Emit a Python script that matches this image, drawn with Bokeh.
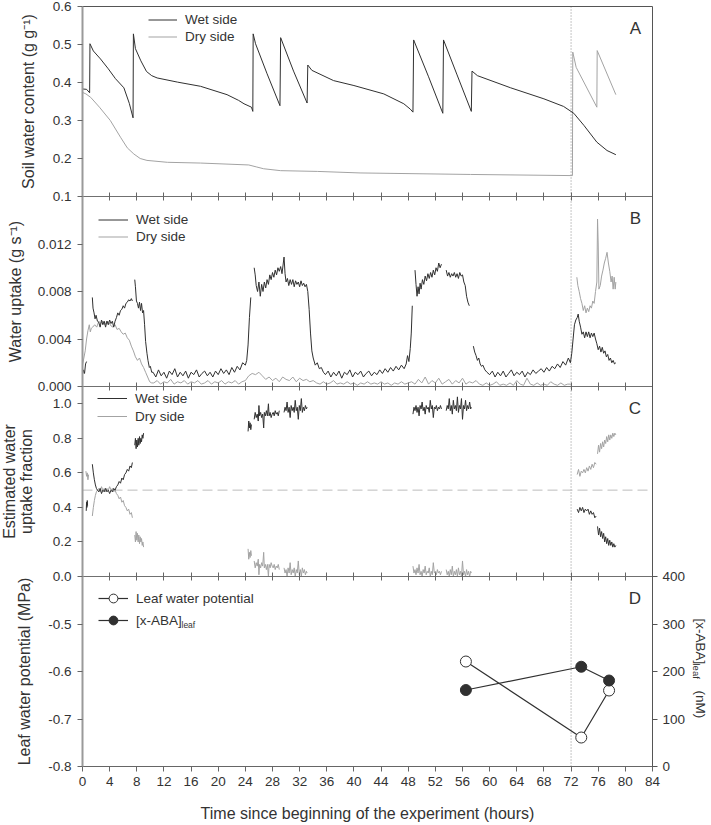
import math
import numpy as np
from bokeh.plotting import figure
from bokeh.models import (Range1d, LinearAxis, FixedTicker, Label, Legend,
                          LegendItem, ColumnDataSource)
from bokeh.embed import file_html
from bokeh.resources import INLINE

FONT = "Liberation Sans"
WET = "#303030"
DRY = "#a3a3a3"
TXT = "#333333"

# ---------------- data ----------------
X_TICKS = [0, 4, 8, 12, 16, 20, 24, 28, 32, 36, 40, 44, 48, 52, 56, 60, 64, 68, 72, 76, 80, 84]
LIGHT_CHANGE = 72.0

# Panel A: soil water content (g g-1)
A_WET = [[(0.0, 0.383), (0.6, 0.382), (1.05, 0.373), (1.1, 0.502), (1.6, 0.483), (2.65, 0.462),
          (3.8, 0.436), (4.86, 0.410), (6.1, 0.386), (6.9, 0.345), (7.45, 0.307), (7.5, 0.528),
          (7.8, 0.489), (8.6, 0.457), (9.43, 0.429), (10.2, 0.418), (11.0, 0.412), (14.0, 0.401),
          (17.4, 0.390), (21.3, 0.368), (23.0, 0.353), (23.8, 0.344), (24.9, 0.335), (25.1, 0.324),
          (25.15, 0.528), (25.5, 0.502), (27.2, 0.423), (29.1, 0.339), (29.2, 0.518), (31.1, 0.430),
          (33.1, 0.346), (33.2, 0.446), (33.8, 0.432), (37.0, 0.405), (40.0, 0.392), (44.4, 0.370),
          (47.35, 0.344), (48.3, 0.330), (48.7, 0.322), (48.8, 0.512), (51.0, 0.415), (53.1, 0.319),
          (53.2, 0.512), (55.2, 0.420), (57.3, 0.324), (57.4, 0.430), (58.2, 0.418), (63.1, 0.386),
          (68.0, 0.357), (70.9, 0.337), (72.4, 0.319), (73.9, 0.287), (75.8, 0.243), (77.3, 0.221),
          (78.6, 0.210)]]
A_DRY = [[(0.0, 0.374), (0.5, 0.370), (1.2, 0.361), (2.5, 0.335), (4.1, 0.300), (5.6, 0.256),
          (6.6, 0.228), (7.56, 0.212), (8.5, 0.200), (9.5, 0.195), (12.5, 0.190), (17.4, 0.188),
          (24.5, 0.183), (25.6, 0.178), (26.7, 0.173), (29.2, 0.168), (34.6, 0.166), (40.9, 0.162),
          (57.2, 0.158), (72.2, 0.155), (72.25, 0.480), (72.75, 0.440), (75.8, 0.335),
          (75.85, 0.484), (78.6, 0.368)]]

# Panel B: water uptake (g s-1)
B_WET = [
    [(0.0, 0.0010), (0.15, 0.0014), (0.3, 0.0011), (0.45, 0.0019), (0.6, 0.0021)],
    [(1.45, 0.0075), (1.55, 0.0066), (1.7, 0.0062), (1.85, 0.0057), (2.0, 0.0060), (2.2, 0.0055),
     (2.4, 0.0054), (2.6, 0.0050), (2.8, 0.0056), (3.0, 0.0052), (3.2, 0.0055), (3.4, 0.0050),
     (3.6, 0.0055), (3.8, 0.0052), (4.0, 0.0056), (4.2, 0.0053), (4.4, 0.0055), (4.6, 0.0050),
     (4.8, 0.0055), (5.0, 0.0058), (5.2, 0.0062), (5.4, 0.0060), (5.6, 0.0064), (5.8, 0.0065),
     (6.0, 0.0068), (6.2, 0.0066), (6.4, 0.0070), (6.6, 0.0071), (6.8, 0.0073), (7.0, 0.0072),
     (7.2, 0.0074), (7.35, 0.0072)],
    [(7.7, 0.0090), (7.8, 0.0084), (7.95, 0.0072), (8.1, 0.0070), (8.25, 0.0066), (8.4, 0.0071),
     (8.55, 0.0064), (8.7, 0.0070), (8.85, 0.0062), (9.0, 0.0064), (9.15, 0.0052), (9.3, 0.0038),
     (9.5, 0.0028), (9.65, 0.0022), (9.85, 0.0016), (10.0, 0.0017), (10.2, 0.0012),
     (10.4, 0.0012), (10.8, 0.0008), (11.2, 0.0014), (11.6, 0.0009), (12.0, 0.0012), (12.4, 0.0007),
     (12.8, 0.0013), (13.2, 0.0010), (13.6, 0.0015), (14.0, 0.0008), (14.4, 0.0012), (14.8, 0.0009),
     (15.2, 0.0013), (15.6, 0.0007), (16.0, 0.0012), (16.4, 0.0010), (16.8, 0.0014), (17.2, 0.0008),
     (17.6, 0.0011), (18.0, 0.0013), (18.4, 0.0009), (18.8, 0.0012), (19.2, 0.0008), (19.6, 0.0013),
     (20.0, 0.0010), (20.4, 0.0015), (20.8, 0.0011), (21.2, 0.0014), (21.6, 0.0010), (22.0, 0.0016),
     (22.4, 0.0012), (22.8, 0.0017), (23.2, 0.0014), (23.6, 0.0020), (24.0, 0.0018),
     (24.2, 0.0022), (24.4, 0.0035), (24.6, 0.0058), (24.8, 0.0075)],
    [(25.3, 0.0100), (25.45, 0.0094), (25.6, 0.0085), (25.8, 0.0080), (26.0, 0.0088), (26.2, 0.0076),
     (26.4, 0.0086), (26.6, 0.0080), (26.8, 0.0088), (27.0, 0.0083), (27.2, 0.0090), (27.4, 0.0086),
     (27.6, 0.0094), (27.8, 0.0090), (28.0, 0.0096), (28.2, 0.0092), (28.4, 0.0098), (28.6, 0.0094),
     (28.8, 0.0100), (29.0, 0.0097), (29.2, 0.0101), (29.4, 0.0095), (29.7, 0.0109), (29.85, 0.0095),
     (30.0, 0.0088), (30.2, 0.0091), (30.4, 0.0085), (30.6, 0.0090), (30.8, 0.0086), (31.0, 0.0090),
     (31.2, 0.0084), (31.4, 0.0089), (31.6, 0.0086), (31.8, 0.0088), (32.0, 0.0084), (32.2, 0.0089),
     (32.4, 0.0085), (32.6, 0.0087), (32.8, 0.0084), (33.0, 0.0086), (33.2, 0.0080), (33.4, 0.0065),
     (33.6, 0.0045), (33.8, 0.0030), (34.0, 0.0024), (34.3, 0.0018), (34.6, 0.0020), (34.9, 0.0015),
     (35.2, 0.0016), (35.5, 0.0012),
     (35.8, 0.0010), (36.2, 0.0013), (36.6, 0.0008), (37.0, 0.0012), (37.4, 0.0009), (37.8, 0.0013),
     (38.2, 0.0007), (38.6, 0.0012), (39.0, 0.0010), (39.4, 0.0014), (39.8, 0.0008), (40.2, 0.0012),
     (40.6, 0.0010), (41.0, 0.0013), (41.4, 0.0008), (41.8, 0.0011), (42.2, 0.0013), (42.6, 0.0009),
     (43.0, 0.0012), (43.4, 0.0010), (43.8, 0.0014), (44.2, 0.0011), (44.6, 0.0015), (45.0, 0.0012),
     (45.4, 0.0016), (45.8, 0.0013), (46.2, 0.0017), (46.6, 0.0014), (47.0, 0.0018), (47.4, 0.0015),
     (47.7, 0.0019), (47.9, 0.0026), (48.1, 0.0021), (48.3, 0.0032), (48.45, 0.0045), (48.6, 0.0068)],
    [(49.0, 0.0098), (49.15, 0.0086), (49.3, 0.0076), (49.45, 0.0084), (49.6, 0.0078), (49.75, 0.0087),
     (49.9, 0.0082), (50.1, 0.0090), (50.3, 0.0086), (50.5, 0.0093), (50.7, 0.0089), (50.9, 0.0095),
     (51.1, 0.0091), (51.3, 0.0096), (51.5, 0.0092), (51.7, 0.0098), (51.9, 0.0094), (52.1, 0.0100),
     (52.3, 0.0097), (52.5, 0.0104), (52.7, 0.0100), (52.9, 0.0103)],
    [(53.6, 0.0098), (53.8, 0.0093), (54.0, 0.0096), (54.2, 0.0092), (54.4, 0.0095), (54.6, 0.0093),
     (54.8, 0.0096), (55.0, 0.0092), (55.2, 0.0095), (55.4, 0.0091), (55.6, 0.0096), (55.8, 0.0093),
     (56.0, 0.0094), (56.2, 0.0088), (56.4, 0.0085), (56.6, 0.0076), (56.8, 0.0071), (57.0, 0.0068)],
    [(57.6, 0.0034), (57.8, 0.0029), (58.0, 0.0026), (58.2, 0.0022), (58.4, 0.0024), (58.6, 0.0019),
     (58.8, 0.0017), (59.0, 0.0018), (59.3, 0.0014), (59.6, 0.0012),
     (60.0, 0.0010), (60.4, 0.0013), (60.8, 0.0008), (61.2, 0.0012), (61.6, 0.0009), (62.0, 0.0013),
     (62.4, 0.0008), (62.8, 0.0011), (63.2, 0.0014), (63.6, 0.0009), (64.0, 0.0012), (64.4, 0.0010),
     (64.8, 0.0013), (65.2, 0.0008), (65.6, 0.0012), (66.0, 0.0010), (66.4, 0.0014), (66.8, 0.0011),
     (67.2, 0.0013), (67.6, 0.0015), (68.0, 0.0012), (68.4, 0.0016), (68.8, 0.0013), (69.2, 0.0017),
     (69.6, 0.0015), (70.0, 0.0019), (70.4, 0.0016), (70.8, 0.0021), (71.2, 0.0018), (71.6, 0.0024),
     (71.9, 0.0020), (72.1, 0.0028), (72.3, 0.0040), (72.5, 0.0052), (72.7, 0.0056), (72.9, 0.0058),
     (73.05, 0.0061), (73.2, 0.0055), (73.4, 0.0050), (73.6, 0.0044), (73.8, 0.0046), (74.0, 0.0041),
     (74.2, 0.0046), (74.4, 0.0042), (74.6, 0.0046), (74.8, 0.0041), (75.0, 0.0045), (75.2, 0.0042),
     (75.4, 0.0045), (75.6, 0.0040), (75.8, 0.0036), (76.0, 0.0031), (76.2, 0.0034), (76.4, 0.0029),
     (76.6, 0.0033), (76.8, 0.0028), (77.0, 0.0030), (77.2, 0.0025), (77.4, 0.0027), (77.6, 0.0022),
     (77.8, 0.0024), (78.0, 0.0020), (78.2, 0.0022), (78.4, 0.0019), (78.6, 0.0020)],
]
B_DRY = [
    [(0.0, 0.0018), (0.2, 0.0024), (0.4, 0.0030), (0.6, 0.0040), (0.8, 0.0047), (1.0, 0.0052),
     (1.15, 0.0046), (1.3, 0.0049), (1.5, 0.0050), (1.8, 0.0052), (2.1, 0.0050), (2.4, 0.0055),
     (2.7, 0.0053), (3.0, 0.0055), (3.3, 0.0052), (3.6, 0.0055), (3.9, 0.0054), (4.2, 0.0051),
     (4.5, 0.0050), (4.8, 0.0052), (5.1, 0.0048), (5.4, 0.0049), (5.7, 0.0046), (6.0, 0.0044),
     (6.3, 0.0045), (6.6, 0.0041), (6.9, 0.0039), (7.2, 0.0034), (7.5, 0.0030), (7.8, 0.0025),
     (8.1, 0.0022), (8.4, 0.0024), (8.7, 0.0019), (9.0, 0.0016), (9.3, 0.0012), (9.6, 0.0008),
     (9.9, 0.0004), (10.2, 0.0003),
     (10.5, 0.0003), (11.0, 0.0005), (11.5, 0.0002), (12.0, 0.0004), (12.5, 0.0003), (13.0, 0.0006),
     (13.5, 0.0002), (14.0, 0.0004), (14.5, 0.0003), (15.0, 0.0005), (15.5, 0.0002), (16.0, 0.0004),
     (16.5, 0.0003), (17.0, 0.0005), (17.5, 0.0002), (18.0, 0.0003), (18.5, 0.0005), (19.0, 0.0002),
     (19.5, 0.0004), (20.0, 0.0003), (20.5, 0.0005), (21.0, 0.0002), (21.5, 0.0004), (22.0, 0.0003),
     (22.5, 0.0005), (23.0, 0.0002), (23.5, 0.0004), (24.0, 0.0005),
     (24.5, 0.0009), (25.0, 0.0011), (25.5, 0.0010), (26.0, 0.0012), (26.5, 0.0009),
     (27.0, 0.0006), (27.5, 0.0008), (28.0, 0.0005), (28.5, 0.0007), (29.0, 0.0004), (29.5, 0.0008),
     (30.0, 0.0006), (30.5, 0.0005), (31.0, 0.0008), (31.5, 0.0004), (32.0, 0.0007), (32.5, 0.0005),
     (33.0, 0.0006), (33.5, 0.0004), (34.0, 0.0005),
     (34.5, 0.0003), (35.0, 0.0002), (35.5, 0.0004), (36.0, 0.0002), (36.5, 0.0003), (37.0, 0.0005),
     (37.5, 0.0002), (38.0, 0.0003), (38.5, 0.0002), (39.0, 0.0004), (39.5, 0.0002), (40.0, 0.0003),
     (40.5, 0.0001), (41.0, 0.0003), (41.5, 0.0002), (42.0, 0.0004), (42.5, 0.0002), (43.0, 0.0003),
     (43.5, 0.0002), (44.0, 0.0004), (44.5, 0.0002), (45.0, 0.0003), (45.5, 0.0001), (46.0, 0.0003),
     (46.5, 0.0002), (47.0, 0.0004), (47.5, 0.0002), (48.0, 0.0003),
     (48.5, 0.0004), (49.0, 0.0002), (49.5, 0.0006), (50.0, 0.0003), (50.5, 0.0008), (51.0, 0.0002),
     (51.5, 0.0005), (52.0, 0.0003), (52.5, 0.0007), (53.0, 0.0002), (53.5, 0.0004), (54.0, 0.0006),
     (54.5, 0.0002), (55.0, 0.0005), (55.5, 0.0003), (56.0, 0.0007), (56.5, 0.0002), (57.0, 0.0004),
     (57.5, 0.0003), (58.0, 0.0005),
     (58.5, 0.0002), (59.0, 0.0001), (59.5, 0.0003), (60.0, 0.0001), (60.5, 0.0002), (61.0, 0.0004),
     (61.5, 0.0001), (62.0, 0.0002), (62.5, 0.0001), (63.0, 0.0003), (63.5, 0.0001), (64.0, 0.0005),
     (64.5, 0.0002), (65.0, 0.0001), (65.5, 0.0007), (66.0, 0.0002), (66.5, 0.0001), (67.0, 0.0003),
     (67.5, 0.0001), (68.0, 0.0002), (68.5, 0.0001), (69.0, 0.0004), (69.5, 0.0002), (70.0, 0.0001),
     (70.5, 0.0003), (71.0, 0.0001), (71.5, 0.0002), (72.0, 0.0002)],
    [(72.85, 0.0092), (73.0, 0.0085), (73.2, 0.0080), (73.4, 0.0074), (73.6, 0.0070), (73.8, 0.0064),
     (74.0, 0.0068), (74.2, 0.0062), (74.4, 0.0066), (74.6, 0.0063), (74.8, 0.0068), (75.0, 0.0066),
     (75.2, 0.0072), (75.4, 0.0070), (75.6, 0.0080), (75.8, 0.0088), (75.9, 0.0141), (76.0, 0.0120),
     (76.1, 0.0082), (76.3, 0.0085), (76.5, 0.0093), (76.7, 0.0098), (76.9, 0.0104), (77.1, 0.0108),
     (77.3, 0.0113), (77.5, 0.0104), (77.7, 0.0097), (77.9, 0.0088), (78.05, 0.0093), (78.2, 0.0082),
     (78.35, 0.0092), (78.5, 0.0082), (78.6, 0.0088)],
]

# Panel C: estimated water uptake fraction
C_WET = [
    [(0.55, 0.38), (0.6, 0.43), (0.65, 0.40), (0.7, 0.44), (0.75, 0.41)],
    [(1.45, 0.65), (1.6, 0.60), (1.75, 0.56), (1.9, 0.53), (2.05, 0.51), (2.2, 0.50), (2.4, 0.49),
     (2.6, 0.51), (2.8, 0.48), (3.0, 0.50), (3.2, 0.49), (3.4, 0.51), (3.6, 0.49), (3.8, 0.50),
     (4.0, 0.48), (4.2, 0.50), (4.4, 0.49), (4.6, 0.51), (4.8, 0.50), (5.0, 0.52), (5.2, 0.53),
     (5.4, 0.55), (5.6, 0.54), (5.8, 0.57), (6.0, 0.56), (6.2, 0.59), (6.4, 0.60), (6.6, 0.62),
     (6.8, 0.61), (7.0, 0.64), (7.2, 0.63), (7.35, 0.66)],
    [(7.7, 0.76), (7.8, 0.80), (7.9, 0.74), (8.0, 0.79), (8.1, 0.75), (8.2, 0.80), (8.3, 0.76),
     (8.4, 0.81), (8.5, 0.77), (8.6, 0.80), (8.7, 0.78), (8.8, 0.82), (8.9, 0.80), (9.0, 0.83)],
    [(24.4, 0.84), (24.5, 0.90), (24.6, 0.86), (24.7, 0.89), (24.8, 0.85), (24.9, 0.88)],
    [(25.3, 0.91), (25.45, 0.95), (25.6, 0.92), (25.75, 0.94), (25.9, 0.90), (26.0, 0.99),
     (26.1, 0.93), (26.25, 0.95), (26.4, 0.92), (26.55, 0.94), (26.7, 0.86), (26.8, 0.95),
     (26.95, 0.93), (27.1, 0.96), (27.25, 0.93), (27.4, 1.00), (27.5, 0.93), (27.65, 0.95),
     (27.8, 0.92), (27.95, 0.94), (28.1, 0.95), (28.25, 0.93), (28.4, 0.96), (28.55, 0.94),
     (28.7, 0.95), (28.85, 0.93), (29.0, 0.96)],
    [(29.7, 0.95), (29.85, 0.98), (30.0, 0.96), (30.15, 1.01), (30.3, 0.95), (30.45, 0.98),
     (30.6, 0.92), (30.75, 0.99), (30.9, 0.96), (31.05, 0.98), (31.2, 0.95), (31.35, 1.02),
     (31.5, 0.96), (31.65, 0.98), (31.8, 0.91), (31.95, 0.99), (32.1, 0.96), (32.25, 1.03),
     (32.4, 0.95), (32.55, 0.98), (32.7, 0.96), (32.85, 0.99), (33.0, 0.97), (33.1, 0.98)],
    [(48.7, 0.94), (48.85, 0.98), (49.0, 0.96), (49.15, 0.99), (49.3, 0.95), (49.45, 0.98),
     (49.6, 0.93), (49.75, 0.99), (49.9, 0.97), (50.05, 1.01), (50.2, 0.96), (50.35, 0.98),
     (50.5, 0.94), (50.65, 0.99), (50.8, 0.97), (50.95, 0.98), (51.1, 0.95), (51.25, 1.02),
     (51.4, 0.97), (51.55, 0.99), (51.7, 0.92), (51.85, 0.98), (52.0, 0.97), (52.15, 0.99),
     (52.3, 0.96), (52.45, 0.98), (52.6, 0.97), (52.75, 0.99), (52.9, 0.97)],
    [(53.6, 0.96), (53.75, 0.99), (53.9, 0.97), (54.05, 1.03), (54.2, 0.96), (54.35, 0.99),
     (54.5, 0.94), (54.65, 1.02), (54.8, 0.97), (54.95, 0.99), (55.1, 0.96), (55.25, 1.04),
     (55.4, 0.95), (55.55, 0.99), (55.7, 0.97), (55.85, 1.03), (56.0, 0.91), (56.15, 0.99),
     (56.3, 0.97), (56.45, 1.02), (56.6, 0.96), (56.75, 0.99), (56.9, 0.97), (57.05, 1.01),
     (57.2, 0.97), (57.3, 0.98)],
    [(72.9, 0.39), (73.1, 0.37), (73.3, 0.40), (73.5, 0.38), (73.7, 0.40), (73.9, 0.37), (74.1, 0.39),
     (74.3, 0.38), (74.5, 0.39), (74.7, 0.36), (74.9, 0.38), (75.1, 0.36), (75.3, 0.37), (75.5, 0.34),
     (75.7, 0.35)],
    [(75.9, 0.29), (76.05, 0.24), (76.2, 0.28), (76.35, 0.23), (76.5, 0.26), (76.65, 0.22),
     (76.8, 0.25), (76.95, 0.20), (77.1, 0.23), (77.25, 0.19), (77.4, 0.22), (77.55, 0.18),
     (77.7, 0.21), (77.85, 0.18), (78.0, 0.20), (78.15, 0.17), (78.3, 0.19), (78.45, 0.17),
     (78.6, 0.18)],
]
C_DRY = [
    [(0.5, 0.61), (0.6, 0.58), (0.7, 0.60), (0.8, 0.56), (0.9, 0.59)],
    [(1.45, 0.35), (1.6, 0.40), (1.75, 0.44), (1.9, 0.47), (2.05, 0.49), (2.2, 0.50), (2.4, 0.51),
     (2.6, 0.49), (2.8, 0.52), (3.0, 0.50), (3.2, 0.51), (3.4, 0.49), (3.6, 0.51), (3.8, 0.50),
     (4.0, 0.52), (4.2, 0.50), (4.4, 0.51), (4.6, 0.49), (4.8, 0.50), (5.0, 0.48), (5.2, 0.47),
     (5.4, 0.45), (5.6, 0.46), (5.8, 0.43), (6.0, 0.44), (6.2, 0.41), (6.4, 0.40), (6.6, 0.38),
     (6.8, 0.39), (7.0, 0.36), (7.2, 0.37), (7.35, 0.34)],
    [(7.7, 0.24), (7.8, 0.20), (7.9, 0.26), (8.0, 0.21), (8.1, 0.25), (8.2, 0.20), (8.3, 0.24),
     (8.4, 0.19), (8.5, 0.23), (8.6, 0.20), (8.7, 0.22), (8.8, 0.18), (8.9, 0.20), (9.0, 0.17)],
    [(24.4, 0.16), (24.5, 0.10), (24.6, 0.14), (24.7, 0.11), (24.8, 0.15), (24.9, 0.12)],
    [(25.3, 0.09), (25.45, 0.05), (25.6, 0.08), (25.75, 0.06), (25.9, 0.10), (26.0, 0.01),
     (26.1, 0.07), (26.25, 0.05), (26.4, 0.08), (26.55, 0.06), (26.7, 0.14), (26.8, 0.05),
     (26.95, 0.07), (27.1, 0.04), (27.25, 0.07), (27.4, 0.00), (27.5, 0.07), (27.65, 0.05),
     (27.8, 0.08), (27.95, 0.06), (28.1, 0.05), (28.25, 0.07), (28.4, 0.04), (28.55, 0.06),
     (28.7, 0.05), (28.85, 0.07), (29.0, 0.04)],
    [(29.7, 0.05), (29.85, 0.02), (30.0, 0.04), (30.15, 0.00), (30.3, 0.05), (30.45, 0.02),
     (30.6, 0.08), (30.75, 0.01), (30.9, 0.04), (31.05, 0.02), (31.2, 0.05), (31.35, 0.00),
     (31.5, 0.04), (31.65, 0.02), (31.8, 0.09), (31.95, 0.01), (32.1, 0.04), (32.25, 0.00),
     (32.4, 0.05), (32.55, 0.02), (32.7, 0.04), (32.85, 0.01), (33.0, 0.03), (33.1, 0.02)],
    [(48.7, 0.06), (48.85, 0.02), (49.0, 0.04), (49.15, 0.01), (49.3, 0.05), (49.45, 0.02),
     (49.6, 0.07), (49.75, 0.01), (49.9, 0.03), (50.05, 0.00), (50.2, 0.04), (50.35, 0.02),
     (50.5, 0.06), (50.65, 0.01), (50.8, 0.03), (50.95, 0.02), (51.1, 0.05), (51.25, 0.00),
     (51.4, 0.03), (51.55, 0.01), (51.7, 0.08), (51.85, 0.02), (52.0, 0.03), (52.15, 0.01),
     (52.3, 0.04), (52.45, 0.02), (52.6, 0.03), (52.75, 0.01), (52.9, 0.03)],
    [(53.6, 0.04), (53.75, 0.01), (53.9, 0.03), (54.05, 0.00), (54.2, 0.04), (54.35, 0.01),
     (54.5, 0.06), (54.65, 0.00), (54.8, 0.03), (54.95, 0.01), (55.1, 0.04), (55.25, 0.00),
     (55.4, 0.05), (55.55, 0.01), (55.7, 0.03), (55.85, 0.00), (56.0, 0.09), (56.15, 0.01),
     (56.3, 0.03), (56.45, 0.00), (56.6, 0.04), (56.75, 0.01), (56.9, 0.03), (57.05, 0.00),
     (57.2, 0.03), (57.3, 0.02)],
    [(72.9, 0.59), (73.1, 0.62), (73.3, 0.58), (73.5, 0.61), (73.7, 0.60), (73.9, 0.62), (74.1, 0.60),
     (74.3, 0.63), (74.5, 0.61), (74.7, 0.64), (74.9, 0.62), (75.1, 0.65), (75.3, 0.63), (75.5, 0.66),
     (75.7, 0.65)],
    [(75.9, 0.71), (76.05, 0.76), (76.2, 0.72), (76.35, 0.77), (76.5, 0.74), (76.65, 0.78),
     (76.8, 0.75), (76.95, 0.79), (77.1, 0.77), (77.25, 0.81), (77.4, 0.78), (77.55, 0.82),
     (77.7, 0.79), (77.85, 0.82), (78.0, 0.80), (78.15, 0.83), (78.3, 0.81), (78.45, 0.83),
     (78.6, 0.82)],
]

# Panel D
D_TIME = [56.5, 73.5, 77.6]
LEAF_WP = [-0.579, -0.739, -0.640]      # MPa
ABA_LEAF = [161, 210, 181]             # nM

# axis ticks per panel
A_TICKS = [0.1, 0.2, 0.3, 0.4, 0.5, 0.6]
B_TICKS = [0.0, 0.004, 0.008, 0.012]
C_TICKS = [0.0, 0.2, 0.4, 0.6, 0.8, 1.0]
D_TICKS = [-0.8, -0.7, -0.6, -0.5]
ABA_TICKS = [0, 100, 200, 300, 400]

# panel: (low, high, slot from bottom)
PANELS = {"A": (0.1, 0.6, 3), "B": (0.0, 0.016, 2), "C": (0.0, 1.1, 1), "D": (-0.8, -0.4, 0)}
ABA_RANGE = (0, 400)
N_PANELS = len(PANELS)
X_START, X_END = X_TICKS[0], X_TICKS[-1]

# ---------------- layout (pixels) ----------------
W, H = 710, 824
PAD_L, PLOT_W = 82, 570
PAD_T, PANEL_H = 6, 190
PAD_R = W - PAD_L - PLOT_W
PAD_B = H - PAD_T - N_PANELS * PANEL_H
PXU = PLOT_W / (X_END - X_START)          # pixels per hour
Y0 = -PAD_B / PANEL_H                      # main range spans the whole canvas
Y1 = N_PANELS + PAD_T / PANEL_H


def series(segments):
    xs, ys = [], []
    for i, seg in enumerate(segments):
        if i:
            xs.append(np.nan)
            ys.append(np.nan)
        for t, v in seg:
            xs.append(t)
            ys.append(v)
    return ColumnDataSource(dict(x=xs, y=ys))


p = figure(width=W, height=H,
           x_range=Range1d(X_START - PAD_L / PXU, X_END + PAD_R / PXU),
           y_range=Range1d(Y0, Y1), output_backend="svg", toolbar_location=None,
           min_border=0, min_border_left=0, min_border_right=0, min_border_top=0,
           min_border_bottom=0, outline_line_color=None,
           background_fill_color="white", border_fill_color="white")
p.xgrid.visible = False
p.ygrid.visible = False

for name, (lo, hi, k) in PANELS.items():
    span = hi - lo
    p.extra_y_ranges[name] = Range1d(lo + (Y0 - k) * span, lo + (Y1 - k) * span)
aspan = ABA_RANGE[1] - ABA_RANGE[0]
p.extra_y_ranges["ABA"] = Range1d(ABA_RANGE[0] + Y0 * aspan, ABA_RANGE[0] + Y1 * aspan)


def style_axis(ax, tick_color="#666666", line_color="#666666"):
    ax.minor_tick_line_color = None
    ax.major_tick_line_color = tick_color
    ax.axis_line_color = line_color
    ax.major_label_text_font = FONT
    ax.major_label_text_font_size = "13.5px"
    ax.major_label_text_color = TXT


# left axis: per-panel ticks mapped into the stacked main range
ticks, overrides = [], {}
for name, vals, fmt in (("D", D_TICKS, "%.1f"), ("C", C_TICKS, "%.1f"),
                        ("B", B_TICKS, "%.3f"), ("A", A_TICKS, "%.1f")):
    lo, hi, k = PANELS[name]
    for v in vals:
        pos = round(k + (v - lo) / (hi - lo), 6)
        ticks.append(pos)
        overrides[pos] = fmt % v

ya = p.yaxis[0]
style_axis(ya, line_color="#9a9a9a")
ya.fixed_location = X_START
ya.bounds = (0, N_PANELS)
ya.ticker = FixedTicker(ticks=ticks)
ya.major_label_overrides = overrides
ya.major_tick_out = 5
ya.major_tick_in = 0
ya.axis_line_width = 2
ya.major_label_standoff = 6

xa = p.xaxis[0]
style_axis(xa)
xa.fixed_location = 0
xa.bounds = (X_START, X_END)
xa.ticker = FixedTicker(ticks=X_TICKS)
xa.major_tick_out = 5
xa.major_tick_in = 0
xa.major_label_standoff = 5
xa.axis_label = "Time since beginning of the experiment (hours)"
xa.axis_label_text_font = FONT
xa.axis_label_text_font_size = "16px"
xa.axis_label_text_font_style = "normal"
xa.axis_label_text_color = TXT
xa.axis_label_standoff = 16

# panel boundaries carry ticks pointing both ways
for b in range(1, N_PANELS):
    bx = LinearAxis(fixed_location=b, bounds=(X_START, X_END), ticker=FixedTicker(ticks=X_TICKS),
                    major_label_overrides={t: "" for t in X_TICKS})
    style_axis(bx, line_color="#707070")
    bx.major_tick_in = 4
    bx.major_tick_out = 4
    p.add_layout(bx, "below")

# top and right spines
top = LinearAxis(fixed_location=N_PANELS, bounds=(X_START, X_END), ticker=FixedTicker(ticks=[]))
style_axis(top, line_color="#555555")
p.add_layout(top, "above")
rsp = LinearAxis(fixed_location=X_END, bounds=(0, N_PANELS), ticker=FixedTicker(ticks=[]))
style_axis(rsp, line_color="#555555")
p.add_layout(rsp, "right")

ra = LinearAxis(y_range_name="ABA", fixed_location=X_END, bounds=ABA_RANGE,
                ticker=FixedTicker(ticks=ABA_TICKS))
style_axis(ra, tick_color="#555555", line_color="#555555")
ra.major_tick_out = 5
ra.major_tick_in = 0
ra.major_label_standoff = 5
p.add_layout(ra, "right")

# reference lines
p.segment(x0=[LIGHT_CHANGE], y0=[0], x1=[LIGHT_CHANGE], y1=[N_PANELS],
          line_color="#8a8a8a", line_width=1, line_dash="1 2")
p.segment(x0=[X_START], y0=[0.5], x1=[X_END], y1=[0.5], y_range_name="C",
          line_color="#bdbdbd", line_width=1, line_dash="10 5")

# data glyphs
rend = {}
for name, wet, dry in (("A", A_WET, A_DRY), ("B", B_WET, B_DRY), ("C", C_WET, C_DRY)):
    rd = p.line("x", "y", source=series(dry), y_range_name=name, line_color=DRY, line_width=1)
    rw = p.line("x", "y", source=series(wet), y_range_name=name, line_color=WET, line_width=1)
    rend[name] = (rw, rd)

lwp_line = p.line(D_TIME, LEAF_WP, y_range_name="D", line_color=WET, line_width=1.2)
aba_line = p.line(D_TIME, ABA_LEAF, y_range_name="ABA", line_color=WET, line_width=1.2)
lwp_pts = p.scatter(D_TIME, LEAF_WP, y_range_name="D", marker="circle", size=11,
                    fill_color="white", line_color=WET, line_width=1)
aba_pts = p.scatter(D_TIME, ABA_LEAF, y_range_name="ABA", marker="circle", size=11,
                    fill_color=WET, line_color=WET, line_width=1)


def add_legend(items, px, first_row_cy, gw, gh):
    # px: left edge of the glyph column; first_row_cy: centre of first row (canvas pixels)
    bottom = first_row_cy - gh / 2 + gh * len(items)
    lg = Legend(items=items, location=(px, H - bottom), orientation="vertical", glyph_width=gw,
                glyph_height=gh, label_height=gh, label_standoff=8, spacing=0, padding=0,
                margin=0, border_line_color=None, background_fill_alpha=0,
                label_text_font=FONT, label_text_font_size="13.5px", label_text_color=TXT)
    p.add_layout(lg)


add_legend([LegendItem(label="Wet side", renderers=[rend["A"][0]]),
            LegendItem(label="Dry side", renderers=[rend["A"][1]])], 148, 19.3, 29, 17)
add_legend([LegendItem(label="Wet side", renderers=[rend["B"][0]]),
            LegendItem(label="Dry side", renderers=[rend["B"][1]])], 98, 219.3, 30, 17)
add_legend([LegendItem(label="Wet side", renderers=[rend["C"][0]]),
            LegendItem(label="Dry side", renderers=[rend["C"][1]])], 97, 398.3, 30, 18)
add_legend([LegendItem(label="Leaf water potential", renderers=[lwp_line, lwp_pts]),
            LegendItem(label="[x-ABA]", renderers=[aba_line, aba_pts])], 98, 598.3, 30, 22)


def label(text, x, y, xo, yo, size, angle=0.0, align="left", baseline="middle"):
    p.add_layout(Label(x=x, y=y, x_offset=xo, y_offset=yo, text=text, angle=angle,
                       text_align=align, text_baseline=baseline, text_font=FONT,
                       text_font_size=size, text_color=TXT))


# subscript of legend entry
label("leaf", X_START, 1, 99, -48, "8.5px")

# panel letters
for name in ("A", "B", "C", "D"):
    k = PANELS[name][2]
    label(name, X_END, k + 1, -11.5, -12, "17px", align="right", baseline="top")

# y-axis titles
half = math.pi / 2
label("Soil water content (g g\u207b\u00b9)", X_START, 3.5, -54.5, 0, "16px", angle=half, align="center")
label("Water uptake (g s\u207b\u00b9)", X_START, 2.5, -67, 0, "16px", angle=half, align="center")
label("Estimated water", X_START, 1.5, -73, 0, "16px", angle=half, align="center")
label("uptake fraction", X_START, 1.5, -56, 0, "16px", angle=half, align="center")
label("Leaf water potential (MPa)", X_START, 0.5, -58.3, 0, "16px", angle=half, align="center")

# right axis title with subscript
label("[x-ABA]", X_END, 1, 48, -42, "13.5px", angle=-half, align="left")
label("leaf", X_END, 1, 44, -87, "9.5px", angle=-half, align="left")
label("(nM)", X_END, 1, 48, -114, "13.5px", angle=-half, align="left")

open("out.html", "w").write(file_html(p, INLINE))
